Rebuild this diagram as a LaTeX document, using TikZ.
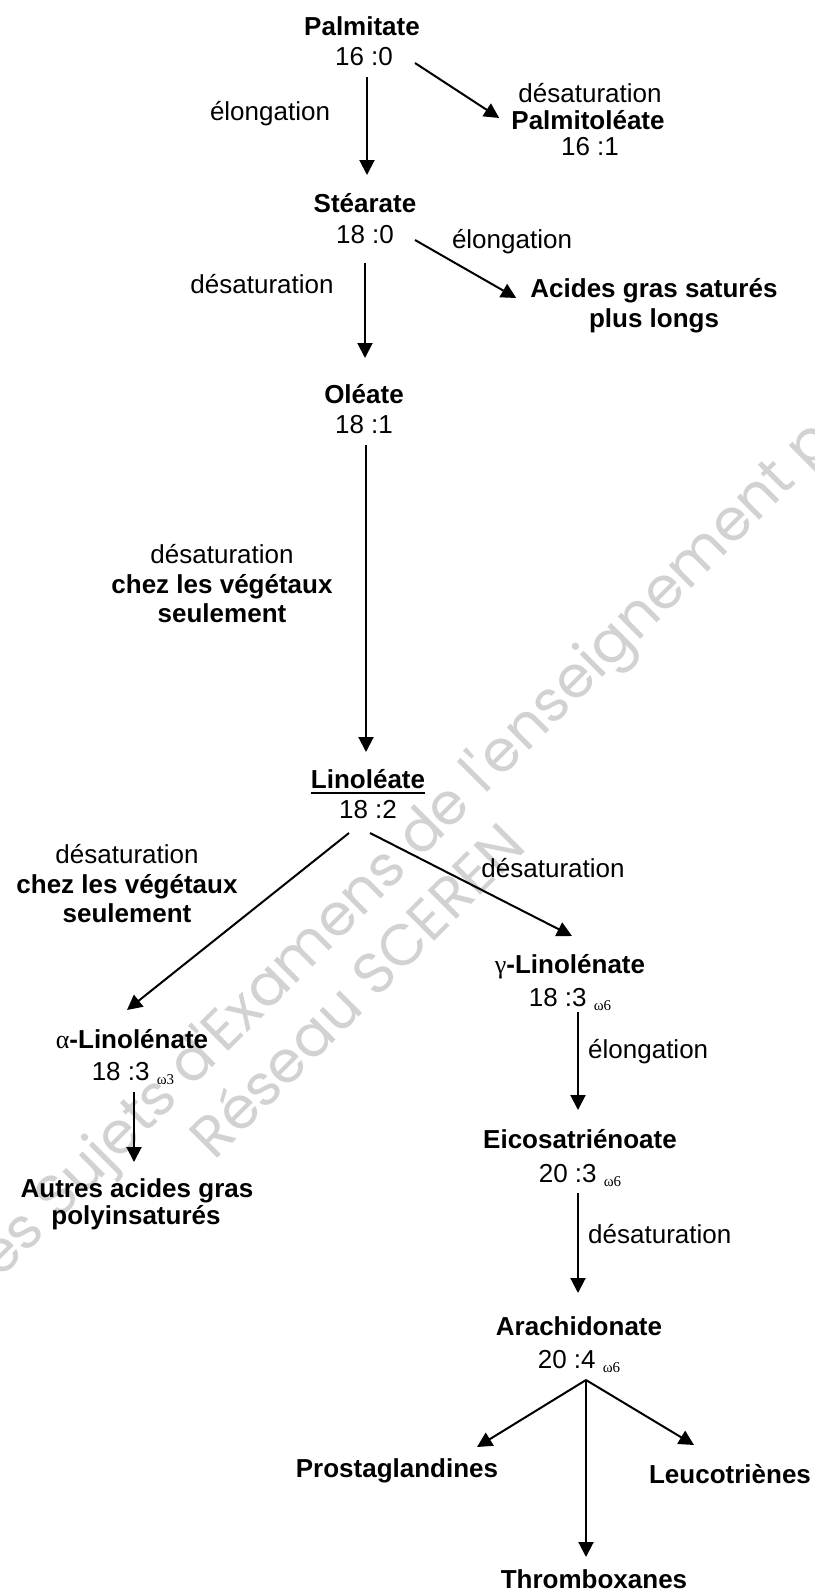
\documentclass[tikz,border=0pt]{standalone}
\usepackage{fontspec}
\setmainfont{Liberation Sans}
\newfontfamily\grfont{Liberation Serif}
\newfontfamily\wmfont{Poppins}
\usetikzlibrary{arrows.meta}
\newcommand\om[1]{\raisebox{-4pt}{\fontsize{15}{15}\selectfont\grfont\mdseries ω#1}}
\newcommand\gr[1]{{\grfont\mdseries #1}}
\tikzset{
  txt/.style={inner sep=0pt, anchor=base, font=\fontsize{26}{30}\selectfont},
  bld/.style={inner sep=0pt, anchor=base, font=\fontsize{26}{30}\selectfont\bfseries},
  arr/.style={-{Triangle[length=15pt,width=15pt]}, line width=2pt},
  wm/.style={inner sep=0pt, anchor=base west, rotate=45, text=gray!35, font=\wmfont\fontsize{58}{62}\selectfont},
}
\begin{document}
\begin{tikzpicture}[x=1pt,y=-1pt]
\fill[white] (0,0) rectangle (814,1590);
\useasboundingbox (0,0) rectangle (814,1590);
% watermark
\begin{scope}
\clip (0,0) rectangle (814,1590);
\node[wm] (wm1) at (58,1222) {\llap{Base Nationale des }Sujets d'Examens de l'enseignement professionnel};
\node[wm] (wm2) at (214,1162) {Réseau SCEREN};
\end{scope}
% nodes
\node[bld] (palm) at (362,35) {Palmitate};
\node[txt] (palmF) at (364,65) {16 :0};
\node[txt] (el1) at (270,120) {élongation};
\node[txt] (de1) at (590,102) {désaturation};
\node[bld] (palmo) at (588,129) {Palmitoléate};
\node[txt] (palmoF) at (590,155) {16 :1};
\node[bld] (stea) at (365,212) {Stéarate};
\node[txt] (steaF) at (365,243) {18 :0};
\node[txt] (de2) at (262,293) {désaturation};
\node[txt] (el2) at (512,248) {élongation};
\node[bld] (agsA) at (654,297) {Acides gras saturés};
\node[bld] (agsB) at (654,327) {plus longs};
\node[bld] (ole) at (364,403) {Oléate};
\node[txt] (oleF) at (364,433) {18 :1};
\node[txt] (de3) at (222,563) {désaturation};
\node[bld] (de3b) at (222,593) {chez les végétaux};
\node[bld] (de3c) at (222,622) {seulement};
\node[bld] (lino) at (368,788) {Linoléate};
\node[txt] (linoF) at (368,818) {18 :2};
\node[txt] (de4) at (127,863) {désaturation};
\node[bld] (de4b) at (127,893) {chez les végétaux};
\node[bld] (de4c) at (127,922) {seulement};
\node[txt] (de5) at (553,877) {désaturation};
\node[bld] (gam) at (570,973) {\gr{γ}-Linolénate};
\node[txt] (gamF) at (570,1006) {18 :3 \om{6}};
\node[txt, anchor=base west] (el3) at (588,1058) {élongation};
\node[bld] (alp) at (132,1048) {\gr{α}-Linolénate};
\node[txt] (alpF) at (133,1080) {18 :3 \om{3}};
\node[bld] (autA) at (137,1197) {Autres acides gras};
\node[bld] (autB) at (136,1224) {polyinsaturés};
\node[bld] (eic) at (580,1148) {Eicosatriénoate};
\node[txt] (eicF) at (580,1182) {20 :3 \om{6}};
\node[txt, anchor=base west] (de6) at (588,1243) {désaturation};
\node[bld] (ara) at (579,1335) {Arachidonate};
\node[txt] (araF) at (579,1368) {20 :4 \om{6}};
\node[bld] (pro) at (397,1477) {Prostaglandines};
\node[bld] (leu) at (730,1483) {Leucotriènes};
\node[bld] (thr) at (594,1588) {Thromboxanes};
% underline
\draw[line width=2pt] ([yshift=-5pt]lino.base west) -- ([yshift=-5pt]lino.base east);
% connectors
\draw[arr] ([xshift=3pt,yshift=-12pt]palmF.base) -- ([xshift=2pt,yshift=37pt]stea.base);
\draw[arr] ([xshift=51pt,yshift=2pt]palmF.base) -- ([xshift=-12pt,yshift=11pt]palmo.base west);
\draw[arr] ([yshift=-20pt]steaF.base) -- ([xshift=1pt,yshift=45pt]ole.base);
\draw[arr] ([xshift=50pt,yshift=3pt]steaF.base) -- ([xshift=-14pt,yshift=-1pt]agsA.base west);
\draw[arr] ([xshift=2pt,yshift=-12pt]oleF.base) -- ([xshift=-2pt,yshift=36pt]lino.base);
\draw[arr] ([xshift=-19pt,yshift=-15pt]linoF.base) -- ([xshift=-5pt,yshift=38pt]alp.base);
\draw[arr] ([xshift=2pt,yshift=-15pt]linoF.base) -- ([xshift=2pt,yshift=37pt]gam.base);
\draw[arr] ([xshift=8pt,yshift=-6pt]gamF.base) -- ([xshift=-2pt,yshift=38pt]eic.base);
\draw[arr] ([xshift=1pt,yshift=-12pt]alpF.base) -- ([xshift=-3pt,yshift=35pt]autA.base);
\draw[arr] ([xshift=-2pt,yshift=-11pt]eicF.base) -- ([xshift=-1pt,yshift=42pt]ara.base);
\coordinate (fan) at ([xshift=7pt,yshift=-12pt]araF.base);
\draw[arr] (fan) -- ([xshift=80pt,yshift=30pt]pro.base);
\draw[arr] (fan) -- ([xshift=-8pt,yshift=31pt]thr.base);
\draw[arr] (fan) -- ([xshift=-36pt,yshift=38pt]leu.base);
\end{tikzpicture}
\end{document}
